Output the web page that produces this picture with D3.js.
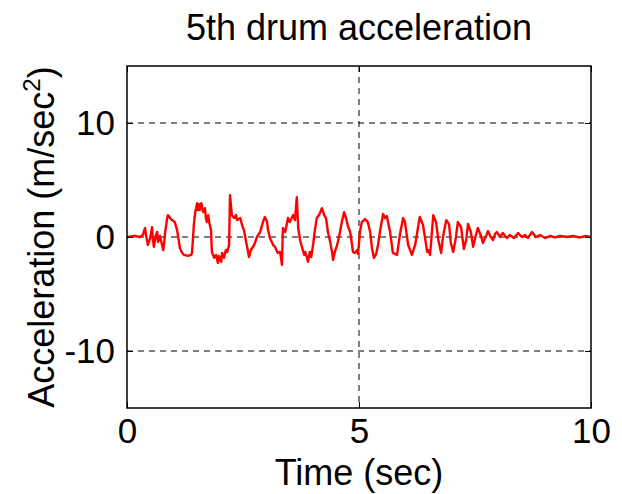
<!DOCTYPE html>
<html lang="en">
<head>
<meta charset="utf-8">
<title>5th drum acceleration</title>
<script src="https://d3js.org/d3.v7.min.js"></script>
<style>
  body { margin: 0; background: #fff; }
  text { font-family: "Liberation Sans", Arial, sans-serif; fill: #000; }
  .signal { fill: none; stroke: #ff0000; stroke-width: 2.4px; stroke-linejoin: round; }
  .grid line { stroke: #000; stroke-width: 1px; stroke-dasharray: 6 5; }
</style>
</head>
<body>
<svg width="622" height="494"></svg>
<script>
// time (sec) and acceleration (m/sec^2)
var timeSec = [0, 0.17, 0.28, 0.34, 0.39, 0.41, 0.45, 0.50, 0.54, 0.56, 0.58, 0.62, 0.65, 0.67, 0.71, 0.73,
  0.78, 0.80, 0.82, 0.86, 0.88, 0.93, 0.97, 1.03, 1.08, 1.10, 1.14, 1.19, 1.23, 1.31, 1.38, 1.40,
  1.42, 1.44, 1.47, 1.49, 1.51, 1.53, 1.55, 1.57, 1.60, 1.62, 1.64, 1.68, 1.70, 1.72, 1.75, 1.77,
  1.81, 1.83, 1.88, 1.92, 1.96, 1.98, 2.03, 2.05, 2.09, 2.13, 2.16, 2.20, 2.22, 2.24, 2.26, 2.31,
  2.35, 2.37, 2.44, 2.48, 2.52, 2.56, 2.63, 2.67, 2.74, 2.80, 2.87, 2.93, 2.97, 3.02, 3.04, 3.08,
  3.15, 3.19, 3.25, 3.30, 3.34, 3.36, 3.41, 3.47, 3.51, 3.58, 3.62, 3.66, 3.69, 3.73, 3.77, 3.82,
  3.84, 3.88, 3.90, 3.94, 3.97, 4.01, 4.05, 4.09, 4.14, 4.20, 4.25, 4.29, 4.33, 4.37, 4.42, 4.44,
  4.48, 4.53, 4.59, 4.63, 4.68, 4.72, 4.76, 4.81, 4.85, 4.87, 4.91, 4.96, 4.98, 5.02, 5.06, 5.13,
  5.19, 5.24, 5.28, 5.32, 5.37, 5.41, 5.45, 5.52, 5.56, 5.60, 5.67, 5.73, 5.82, 5.88, 5.95, 5.99,
  6.06, 6.14, 6.21, 6.27, 6.31, 6.38, 6.47, 6.49, 6.53, 6.55, 6.60, 6.66, 6.71, 6.77, 6.81, 6.88,
  6.94, 6.98, 7.03, 7.09, 7.13, 7.20, 7.26, 7.31, 7.35, 7.41, 7.46, 7.52, 7.56, 7.63, 7.67, 7.74,
  7.78, 7.84, 7.89, 7.93, 7.97, 8.04, 8.10, 8.19, 8.25, 8.34, 8.43, 8.51, 8.58, 8.64, 8.73, 8.81,
  8.90, 9.01, 9.12, 9.22, 9.33, 9.48, 9.61, 9.76, 9.89, 10];
var accel = [0, 0.09, 0, 0.17, 0.79, 0.17, -0.70, -0.09, 0.87, -0.26, -0.87, 0.09, 0.44, -0.44, 0.09, -0.26,
  -1.14, -0.61, 0.35, 1.48, 1.92, 1.66, 1.48, 1.31, 0.61, 0.09, -0.96, -1.40, -1.57, -1.66, -1.57, -1.40,
  -0.26, 1.05, 2.18, 2.53, 2.97, 2.36, 2.88, 2.36, 2.97, 2.62, 2.18, 2.53, 1.66, 1.31, 1.92, 1.31,
  0.61, -1.31, -1.83, -1.57, -2.27, -1.66, -2.18, -1.40, -1.83, -1.14, -1.31, -0.70, 3.67, 2.79, 1.92, 1.66,
  1.92, 1.48, 1.66, 1.05, 0.61, -0.26, -1.75, -1.14, -0.70, 0, 0.44, 1.31, 1.75, 1.31, 0.61, -0.09,
  -0.70, -0.87, -1.40, -1.31, -2.45, 0.79, 0.44, 1.66, 1.31, 1.92, 1.48, 3.49, 0.79, -0.26, -0.87, -1.57,
  -1.31, -1.83, -2.18, -1.31, -1.75, -0.70, 0.61, 1.66, 1.92, 2.53, 1.92, 1.66, 0.44, -0.26, -1.31, -2.01,
  -1.31, -0.70, 0.44, 1.31, 2.18, 1.66, 0.96, 0.44, -0.70, -1.31, -1.40, -1.14, -1.48, 0.44, 1.31, 1.57,
  1.31, 0.44, -0.96, -1.83, -1.48, -0.70, 0.44, 2.01, 1.66, 1.83, 0.44, -1.40, -1.57, 0.17, 1.66, 1.31,
  -0.70, -1.57, -0.70, 0.79, 1.75, 1.05, -1.31, -1.14, -1.57, -0.70, 1.92, 1.31, -0.26, -1.40, 0, 1.48,
  1.14, -0.52, -1.31, 0, 1.31, 0.87, -1.05, -0.26, 1.14, 0.44, -0.87, 0.17, 0.79, 0.09, -0.52, 0.09,
  0.52, 0, -0.26, 0.26, 0.44, 0, 0.35, -0.09, 0.17, -0.09, 0.35, 0, 0.17, -0.09, 0.44, 0,
  0.17, -0.09, 0.09, -0.04, 0.09, 0, 0.09, -0.04, 0.09, 0];

var xTicks = [0, 5, 10];
var yTicks = [-10, 0, 10];
var xGrid = [5];
var yGrid = [-10, 0, 10];

var svg = d3.select("svg");
var margin = {top: 66, right: 31, bottom: 86, left: 127};
var width = +svg.attr("width") - margin.left - margin.right;
var height = +svg.attr("height") - margin.top - margin.bottom;
var g = svg.append("g").attr("transform", `translate(${margin.left}, ${margin.top})`);

var xScale = d3.scaleLinear().domain([0, 10]).range([0, width]);
var yScale = d3.scaleLinear().domain([-15, 15]).range([height, 0]);

var data = timeSec.map((t, i) => ({t: t, a: accel[i]}));

// dashed grid
var grid = g.append("g").attr("class", "grid");
grid.selectAll(".gx").data(xGrid).join("line")
    .attr("x1", d => xScale(d)).attr("x2", d => xScale(d))
    .attr("y1", 0).attr("y2", height);
grid.selectAll(".gy").data(yGrid).join("line")
    .attr("class", "gy")
    .attr("x1", 0).attr("x2", width)
    .attr("y1", d => yScale(d)).attr("y2", d => yScale(d));

// signal
var line = d3.line()
    .x(d => xScale(d.t))
    .y(d => yScale(d.a));
g.append("path")
    .datum(data)
    .attr("class", "signal")
    .attr("d", line);

// axes, ticks inward on all four sides
function styleAxis(sel) {
  sel.select(".domain").remove();
  sel.selectAll(".tick line").attr("stroke", "#000").attr("stroke-width", 1);
  sel.selectAll(".tick text").style("font-size", "35px").attr("fill", "#000");
}
g.append("g")
    .attr("transform", `translate(0, ${height})`)
    .call(d3.axisBottom(xScale).tickValues(xTicks).tickSize(-6).tickPadding(10))
    .call(styleAxis);
g.append("g")
    .call(d3.axisLeft(yScale).tickValues(yTicks).tickSize(-6).tickPadding(12).tickFormat(d => d < 0 ? "-" + Math.abs(d) : d))
    .call(styleAxis);
g.append("g")
    .call(d3.axisTop(xScale).tickValues(xTicks).tickSize(-6).tickFormat(""))
    .call(styleAxis);
g.append("g")
    .attr("transform", `translate(${width}, 0)`)
    .call(d3.axisRight(yScale).tickValues(yTicks).tickSize(-6).tickFormat(""))
    .call(styleAxis);

// frame
g.append("rect")
    .attr("width", width).attr("height", height)
    .attr("fill", "none").attr("stroke", "#000").attr("stroke-width", 1.5);

// title and labels
svg.append("text")
    .attr("x", margin.left + width / 2).attr("y", 40)
    .attr("text-anchor", "middle")
    .style("font-size", "36px")
    .text("5th drum acceleration");

svg.append("text")
    .attr("x", margin.left + width / 2).attr("y", 485)
    .attr("text-anchor", "middle")
    .style("font-size", "36px")
    .text("Time (sec)");

var yl = svg.append("text")
    .attr("transform", `translate(54, ${margin.top + height / 2}) rotate(-90)`)
    .attr("text-anchor", "middle")
    .style("font-size", "36px");
yl.append("tspan").text("Acceleration (m/sec");
yl.append("tspan").attr("dy", -14).style("font-size", "24px").text("2");
yl.append("tspan").attr("dy", 14).text(")");
</script>
</body>
</html>
